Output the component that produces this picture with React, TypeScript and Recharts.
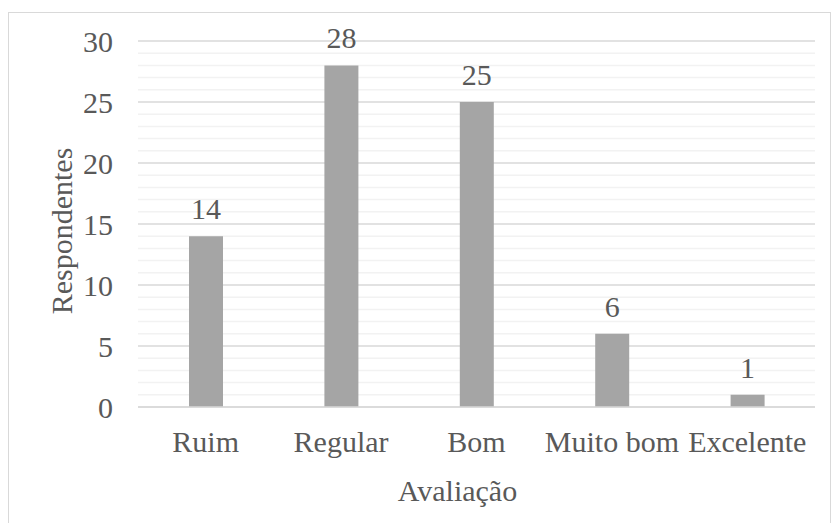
import React from 'react';
import { BarChart, Bar, XAxis, YAxis, CartesianGrid, LabelList } from 'recharts';

const categories = ['Ruim', 'Regular', 'Bom', 'Muito bom', 'Excelente'];
const respondentes = [14, 28, 25, 6, 1];
const majorTicks = [0, 5, 10, 15, 20, 25, 30];
// every unit step gets a gridline; only the major ones carry a label
const gridTicks = [0, 1, 2, 3, 4, 5, 6, 7, 8, 9, 10, 11, 12, 13, 14, 15, 16, 17, 18, 19, 20, 21, 22, 23, 24, 25, 26, 27, 28, 29, 30];

const data = categories.map((name, i) => ({ name, value: respondentes[i] }));

const FONT = 'Liberation Serif, Times New Roman, serif';
const TEXT = '#595959';
const FS = 30;
const MAJOR_GRID = '#d9d9d9';
const MINOR_GRID = '#f2f2f2';

const YTitle = (props: any) => {
  const vb = props.viewBox || {};
  const x = (vb.x ?? 0) + 61;
  const y = (vb.y ?? 0) + (vb.height ?? 0) / 2 + 7;
  return (
    <text
      x={x}
      y={y}
      transform={`rotate(-90, ${x}, ${y})`}
      textAnchor="middle"
      dominantBaseline="central"
      fill={TEXT}
      style={{ fontSize: FS, fontFamily: FONT }}
    >
      Respondentes
    </text>
  );
};

const XTitle = (props: any) => {
  const vb = props.viewBox || {};
  const x = (vb.x ?? 0) + (vb.width ?? 0) / 2 - 19;
  const y = (vb.y ?? 0) + 94;
  return (
    <text x={x} y={y} textAnchor="middle" fill={TEXT} style={{ fontSize: FS, fontFamily: FONT }}>
      Avaliação
    </text>
  );
};

const YTick = (p: any) => {
  const v = p.payload?.value;
  if (!majorTicks.includes(v)) return <g />;
  return (
    <text x={p.x} y={p.y} dy="0.355em" textAnchor="end" fill={TEXT} style={{ fontSize: FS, fontFamily: FONT }}>
      {v}
    </text>
  );
};

const GridLine = (p: any) => {
  const v = gridTicks[p.index];
  const major = majorTicks.includes(v);
  return (
    <line
      key={p.key}
      x1={p.x1}
      y1={p.y1}
      x2={p.x2}
      y2={p.y2}
      stroke={major ? MAJOR_GRID : MINOR_GRID}
      strokeWidth={1.5}
      fill="none"
    />
  );
};

export default function App() {
  return (
    <div
      style={{
        position: 'absolute',
        left: 0,
        top: 0,
        width: 831,
        height: 523,
        overflow: 'hidden',
        background: '#fff',
        fontFamily: FONT,
      }}
    >
      <div
        style={{
          position: 'absolute',
          left: 8,
          top: 12,
          width: 821,
          height: 530,
          border: '1.5px solid #d9d9d9',
        }}
      />
      <div style={{ position: 'absolute', left: 0, top: 0 }}>
        <BarChart
          width={831}
          height={523}
          data={data}
          margin={{ top: 41, right: 16, bottom: 86, left: 0 }}
          barSize={34}
        >
          <CartesianGrid vertical={false} horizontal={GridLine} />
          <XAxis
            dataKey="name"
            height={30}
            interval={0}
            tickLine={false}
            tickSize={0}
            tickMargin={24}
            axisLine={{ stroke: MAJOR_GRID, strokeWidth: 1.5 }}
            tick={{ fill: TEXT, fontSize: FS, fontFamily: FONT }}
            label={<XTitle />}
          />
          <YAxis
            width={138}
            domain={[0, 30]}
            ticks={gridTicks}
            interval={0}
            axisLine={false}
            tickLine={false}
            tickSize={0}
            tickMargin={25}
            tick={<YTick />}
            label={<YTitle />}
          />
          <Bar dataKey="value" fill="#a5a5a5" isAnimationActive={false}>
            <LabelList dataKey="value" position="top" offset={17} fill={TEXT} fontSize={FS} fontFamily={FONT} />
          </Bar>
        </BarChart>
      </div>
    </div>
  );
}
